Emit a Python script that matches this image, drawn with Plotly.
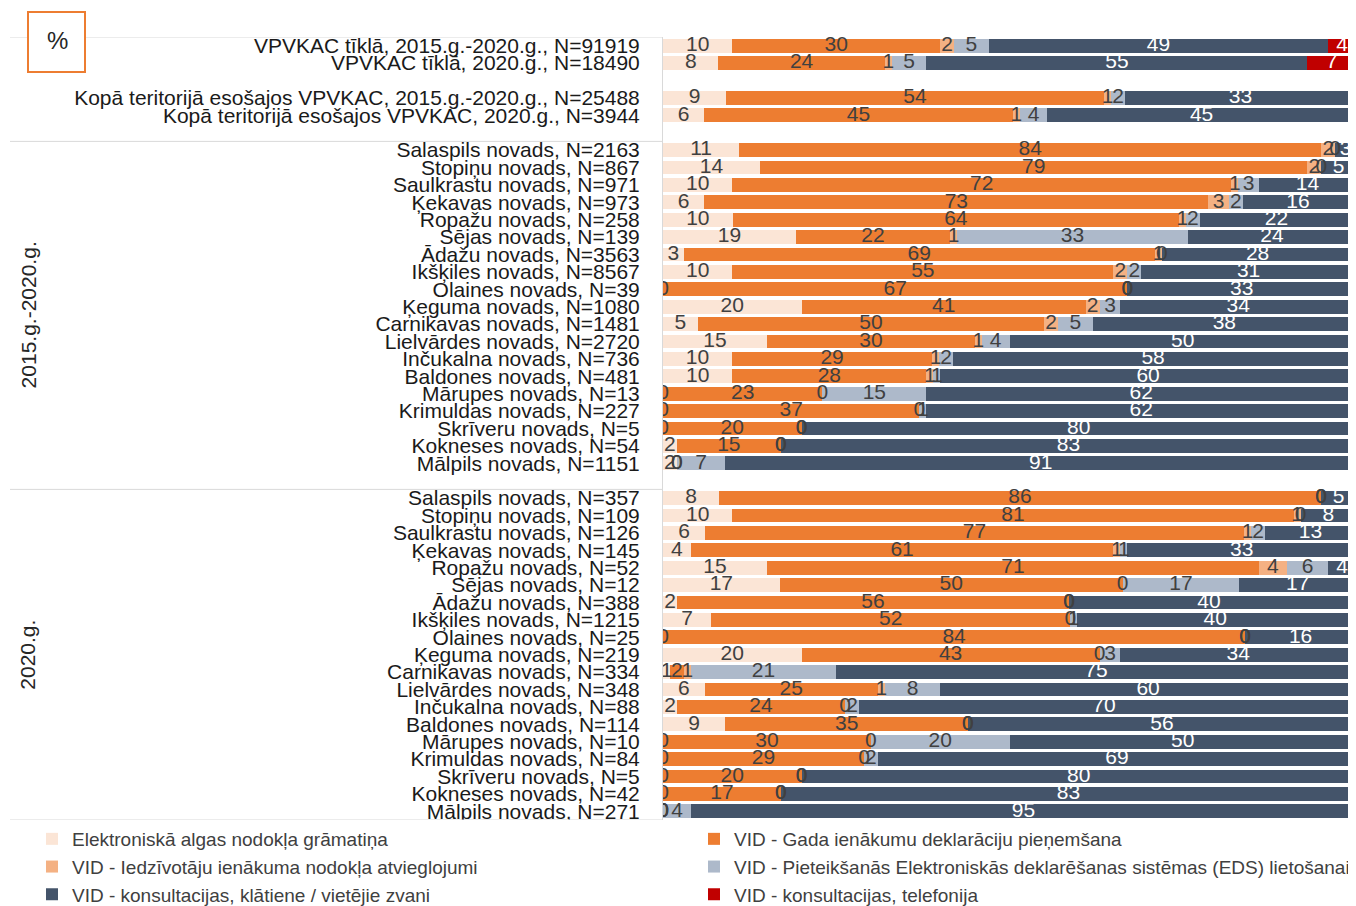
import numpy as np
import plotly.graph_objects as go

# ---------------- data ----------------
series_names = [
    "Elektroniskā algas nodokļa grāmatiņa",
    "VID - Gada ienākumu deklarāciju pieņemšana",
    "VID - Iedzīvotāju ienākuma nodokļa atvieglojumi",
    "VID - Pieteikšanās Elektroniskās deklarēšanas sistēmas (EDS) lietošanai",
    "VID - konsultacijas, klātiene / vietējie zvani",
    "VID - konsultacijas, telefonija",
]
series_colors = ["#FBE5D6", "#ED7D31", "#F4B183", "#ADB9CA", "#44546A", "#C00000"]

top_labels = [
    "VPVKAC tīklā, 2015.g.-2020.g., N=91919",
    "VPVKAC tīklā, 2020.g., N=18490",
    "Kopā teritorijā esošajos VPVKAC, 2015.g.-2020.g., N=25488",
    "Kopā teritorijā esošajos VPVKAC, 2020.g., N=3944",
]
municipalities = ["Salaspils", "Stopiņu", "Saulkrastu", "Ķekavas", "Ropažu", "Sējas",
                  "Ādažu", "Ikšķiles", "Olaines", "Ķeguma", "Carnikavas", "Lielvārdes",
                  "Inčukalna", "Baldones", "Mārupes", "Krimuldas", "Skrīveru",
                  "Kokneses", "Mālpils"]
n_2015_2020 = [2163, 867, 971, 973, 258, 139, 3563, 8567, 39, 1080, 1481, 2720,
               736, 481, 13, 227, 5, 54, 1151]
n_2020 = [357, 109, 126, 145, 52, 12, 388, 1215, 25, 219, 334, 348,
          88, 114, 10, 84, 5, 42, 271]
group_titles = ["2015.g.-2020.g.", "2020.g."]

# values: 4 top rows, then 19 rows 2015-2020, then 19 rows 2020
s_ealgas = [10, 8, 9, 6,
            11, 14, 10, 6, 10, 19, 3, 10, 0, 20, 5, 15, 10, 10, 0, 0, 0, 2, 2,
            8, 10, 6, 4, 15, 17, 2, 7, 0, 20, 1, 6, 2, 9, 0, 0, 0, 0, 0]
s_gada = [30, 24, 54, 45,
          84, 79, 72, 73, 64, 22, 69, 55, 67, 41, 50, 30, 29, 28, 23, 37, 20, 15, 0,
          86, 81, 77, 61, 71, 50, 56, 52, 84, 43, 2, 25, 24, 35, 30, 29, 20, 17, 0]
s_iin = [2, 1, 1, 1,
         2, 2, 1, 3, 1, 1, 1, 2, 0, 2, 2, 1, 1, 1, 0, 0, 0, 0, 0,
         0, 1, 1, 1, 4, 0, 0, 0, 0, 0, 1, 1, 0, 0, 0, 0, 0, 0, 0]
s_eds = [5, 5, 2, 4,
         0, 0, 3, 2, 2, 33, 0, 2, 0, 3, 5, 4, 2, 1, 15, 1, 0, 0, 7,
         0, 0, 2, 1, 6, 17, 0, 1, 0, 3, 21, 8, 2, 0, 20, 2, 0, 0, 4]
s_klat = [49, 55, 33, 45,
          3, 5, 14, 16, 22, 24, 28, 31, 33, 34, 38, 50, 58, 60, 62, 62, 80, 83, 91,
          5, 8, 13, 33, 4, 17, 40, 40, 16, 34, 75, 60, 70, 56, 50, 69, 80, 83, 95]
s_tel = [4, 7, 0, 0,
         0, 0, 0, 0.4, 0.4, 0, 0.4, 0, 0, 0, 0, 0, 0.4, 0, 0, 0, 0, 0, 0,
         0, 0, 0, 0, 0, 0, 1, 0.4, 0, 0, 0, 0, 1, 0, 0, 0, 0, 0, 0]

# ---------------- assembly ----------------
labels = (top_labels
          + [f"{m} novads, N={n}" for m, n in zip(municipalities, n_2015_2020)]
          + [f"{m} novads, N={n}" for m, n in zip(municipalities, n_2020)])

# row index positions (with one empty row between blocks)
blocks = [2, 2, len(municipalities), len(municipalities)]
ypos = []
cur = 0
block_bounds = []
for b in blocks:
    start = cur
    ypos.extend(range(cur, cur + b))
    cur += b
    block_bounds.append((start, cur - 1))
    cur += 1  # empty row
ypos = np.array(ypos, dtype=float)
last_row = ypos[-1]

vals = np.array([s_ealgas, s_gada, s_iin, s_eds, s_klat, s_tel], dtype=float)
totals = vals.sum(axis=0)
norm = vals / totals * 100
cum = np.cumsum(norm, axis=0)
starts = cum - norm
centers = starts + norm / 2

FONT = "Liberation Sans, Arial, sans-serif"
DARK = "#404040"

fig = go.Figure()
for i, name in enumerate(series_names):
    fig.add_trace(go.Bar(
        y=ypos, x=vals[i], name=name, orientation="h",
        marker=dict(color=series_colors[i], line=dict(width=0)),
        width=0.8, hoverinfo="skip",
    ))

for i in range(len(series_names)):
    cols = []
    for v in vals[i]:
        if i == 4:
            cols.append("white")
        elif i == 5:
            cols.append("white" if v >= 2 else ("#C00000" if v >= 0.5 else DARK))
        else:
            cols.append(DARK)
    fig.add_trace(go.Scatter(
        x=centers[i], y=ypos, mode="text",
        text=[f"{v:.0f}" for v in vals[i]],
        textfont=dict(family=FONT, size=21, color=cols),
        textposition="middle center",
        showlegend=False, hoverinfo="skip", cliponaxis=True,
    ))

# page offset (body margin) and geometry in screen pixels
OFF = 8
W, H = 1356 - OFF, 906 - OFF
ML, MR, MT = 663 - OFF, 0, 37 - OFF
MB = H - (820 - OFF)
pw = W - ML - MR
ph = H - MT - MB
def px_x(px):
    return (px - OFF - ML) / pw
def px_y(py):
    return (H - MB - (py - OFF)) / ph

sep_y = [-0.5, block_bounds[1][1] + 1.5, block_bounds[2][1] + 1.5, last_row + 0.5]
shapes = []
for yv in sep_y:
    shapes.append(dict(type="line", xref="paper", yref="y", x0=px_x(10), x1=0,
                       y0=yv, y1=yv, line=dict(color="#D9D9D9", width=1)))
# "%" box
shapes.append(dict(type="rect", xref="paper", yref="paper",
                   x0=px_x(28), x1=px_x(85), y0=px_y(72), y1=px_y(12),
                   line=dict(color="#ED7D31", width=2), fillcolor="white"))

annotations = [dict(xref="paper", yref="paper", x=px_x(57), y=px_y(41),
                    xanchor="center", yanchor="middle",
                    text="%", showarrow=False, font=dict(family=FONT, size=24, color="#262626"))]
group_centers = [(sep_y[1] + sep_y[2]) / 2, (sep_y[2] + sep_y[3]) / 2]
for t, yc in zip(group_titles, group_centers):
    annotations.append(dict(xref="paper", yref="y", x=px_x(28), y=yc, text=t,
                            xanchor="center", yanchor="middle",
                            textangle=-90, showarrow=False,
                            font=dict(family=FONT, size=21, color="#262626")))

fig.update_layout(
    width=W, height=H, autosize=False,
    margin=dict(l=ML, r=MR, t=MT, b=MB, pad=0, autoexpand=False),
    paper_bgcolor="white", plot_bgcolor="white",
    barmode="stack", barnorm="percent", bargap=0.2,
    xaxis=dict(range=[0, 100], showticklabels=False, showgrid=False,
               zeroline=False, showline=False, fixedrange=True),
    yaxis=dict(range=[last_row + 0.5, -0.5], tickvals=ypos, ticktext=labels,
               tickfont=dict(family=FONT, size=21, color="#1a1a1a"),
               showgrid=False, zeroline=False, showline=True, linecolor="#D9D9D9",
               linewidth=1, ticks="", ticklabelstandoff=18, automargin=False),
    legend=dict(orientation="h", xref="paper", yref="paper",
                x=px_x(32), y=0, xanchor="left", yanchor="top",
                entrywidth=617, entrywidthmode="pixels", traceorder="normal",
                font=dict(family=FONT, size=19, color=DARK), itemwidth=30),
    shapes=shapes, annotations=annotations,
    showlegend=True,
)

fig.write_html("out.html")
